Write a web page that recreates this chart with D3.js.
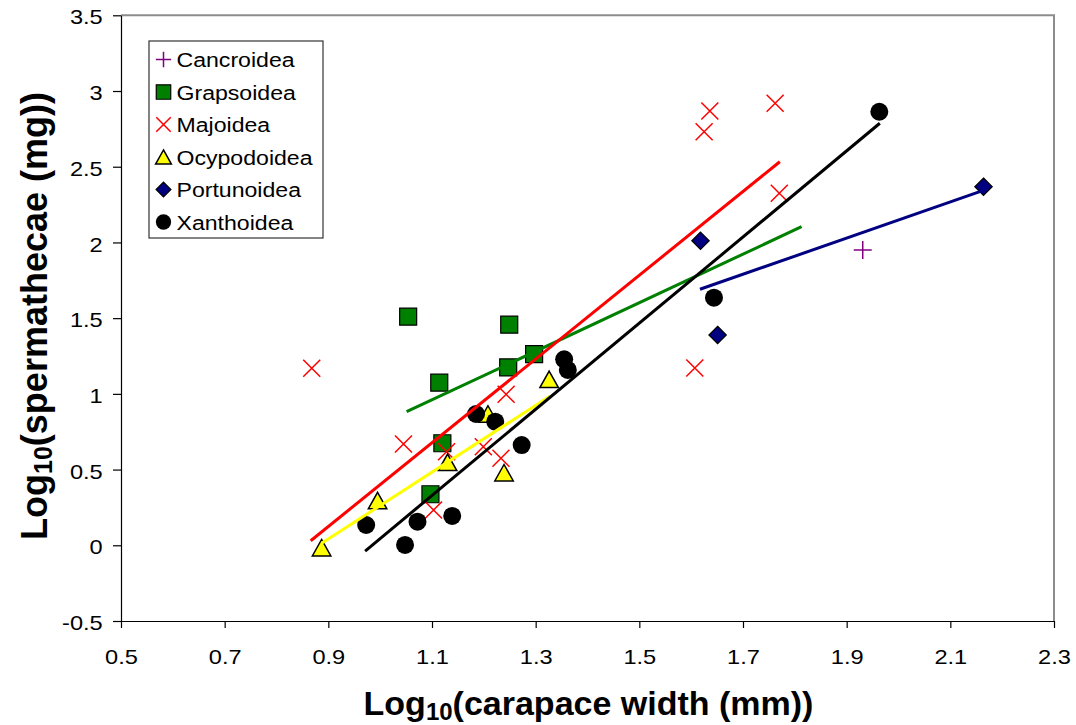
<!DOCTYPE html>
<html>
<head>
<meta charset="utf-8">
<script src="https://cdn.jsdelivr.net/npm/d3@7"></script>
<style>
  html, body { margin: 0; padding: 0; background: #fff; }
  svg { display: block; }
  text { font-family: "Liberation Sans", Arial, sans-serif; fill: #000; }
</style>
</head>
<body>
<svg id="chart" width="1076" height="725"></svg>
<script>
// ---------------- data ----------------
const seriesNames = ["Cancroidea", "Grapsoidea", "Majoidea", "Ocypodoidea", "Portunoidea", "Xanthoidea"];

// [log10 carapace width, log10 spermathecae]
const cancroidea = [[1.931, 1.950]];
const grapsoidea = [[1.054, 1.510], [1.249, 1.457], [1.114, 1.074], [1.297, 1.263], [1.247, 1.175], [1.120, 0.674], [1.097, 0.337]];
const majoidea = [[0.868, 1.169], [1.045, 0.669], [1.103, 0.233], [1.128, 0.618], [1.199, 0.651], [1.233, 0.575], [1.243, 0.997],
                  [1.607, 1.171], [1.625, 2.731], [1.636, 2.868], [1.762, 2.919], [1.770, 2.325]];
const ocypodoidea = [[0.887, -0.016], [0.995, 0.295], [1.130, 0.548], [1.208, 0.867], [1.239, 0.479], [1.326, 1.096]];
const portunoidea = [[1.618, 2.011], [1.651, 1.389], [2.164, 2.368]];
const xanthoidea = [[0.973, 0.134], [1.048, 0.002], [1.072, 0.156], [1.139, 0.194], [1.185, 0.867], [1.222, 0.816],
                    [1.273, 0.662], [1.355, 1.228], [1.362, 1.158], [1.644, 1.635], [1.963, 2.863]];

// linear trend lines (end points)
const grapsoideaFit = [[1.051, 0.882], [1.813, 2.104]];
const majoideaFit = [[0.866, 0.030], [1.771, 2.533]];
const ocypodoideaFit = [[0.887, 0.013], [1.328, 0.986]];
const portunoideaFit = [[1.617, 1.691], [2.161, 2.340]];
const xanthoideaFit = [[0.971, -0.038], [1.964, 2.787]];

const xTicks = [0.5, 0.7, 0.9, 1.1, 1.3, 1.5, 1.7, 1.9, 2.1, 2.3];
const xTickLabels = ["0.5", "0.7", "0.9", "1.1", "1.3", "1.5", "1.7", "1.9", "2.1", "2.3"];
const yTicks = [-0.5, 0, 0.5, 1, 1.5, 2, 2.5, 3, 3.5];
const yTickLabels = ["-0.5", "0", "0.5", "1", "1.5", "2", "2.5", "3", "3.5"];

// ---------------- layout ----------------
const svg = d3.select("#chart");
const L = 121, R = 1054, T = 15.3, B = 621;
const x = d3.scaleLinear().domain([0.5, 2.3]).range([L, R]);
const y = d3.scaleLinear().domain([-0.5, 3.5]).range([B, T]);

// plot border (top/right grey)
svg.append("path")
  .attr("d", `M${L},${T}H${R}V${B}`)
  .attr("fill", "none").attr("stroke", "#8c8c8c").attr("stroke-width", 2);

// axes
const xAxis = svg.append("g").attr("transform", `translate(0,${B})`)
  .call(d3.axisBottom(x).tickValues(xTicks).tickSize(7).tickSizeOuter(0)
        .tickFormat((d, i) => xTickLabels[i]));
const yAxis = svg.append("g").attr("transform", `translate(${L},0)`)
  .call(d3.axisLeft(y).tickValues(yTicks).tickSize(8).tickSizeOuter(0)
        .tickFormat((d, i) => yTickLabels[i]));
[xAxis, yAxis].forEach(g => {
  g.selectAll("path.domain").attr("stroke", "#000").attr("stroke-width", 1.2);
  g.selectAll(".tick line").attr("stroke", "#000").attr("stroke-width", 1.2);
  g.selectAll(".tick text").attr("font-size", 20).attr("fill", "#000")
    .style("font-family", '"Liberation Sans", Arial, sans-serif');
});
xAxis.selectAll(".tick text").attr("y", 43).attr("dy", 0).attr("transform", "scale(1.18,1)");
yAxis.selectAll(".tick text").attr("x", -18.3 / 1.18).attr("dy", "0.43em").attr("transform", "scale(1.18,1)");

// ---------------- marker shapes ----------------
function squarePath(s) { const h = s / 2; return `M${-h},${-h}H${h}V${h}H${-h}Z`; }
function trianglePath(w, hgt) { return `M0,${-hgt / 2}L${w / 2},${hgt / 2}L${-w / 2},${hgt / 2}Z`; }
function diamondPath(r) { return `M0,${-r}L${r},0L0,${r}L${-r},0Z`; }
function xPath(r) { return `M${-r},${-r}L${r},${r}M${-r},${r}L${r},${-r}`; }
function plusPath(r) { return `M${-r},0H${r}M0,${-r}V${r}`; }

const styles = {
  Cancroidea:  { draw: (g, k) => g.append("path").attr("d", plusPath(9 * k)).attr("fill", "none").attr("stroke", "#800080").attr("stroke-width", 1.5) },
  Grapsoidea:  { draw: (g, k) => g.append("path").attr("d", squarePath(17 * k)).attr("fill", "#008000").attr("stroke", "#000").attr("stroke-width", 1.2) },
  Majoidea:    { draw: (g, k) => g.append("path").attr("d", xPath(8.5 * k)).attr("fill", "none").attr("stroke", "#ff0000").attr("stroke-width", 1.5) },
  Ocypodoidea: { draw: (g, k) => g.append("path").attr("d", trianglePath(18.5 * k, 16.5 * k)).attr("fill", "#ffff00").attr("stroke", "#000").attr("stroke-width", 1.5).attr("stroke-linejoin", "miter") },
  Portunoidea: { draw: (g, k) => g.append("path").attr("d", diamondPath(8.7 * k)).attr("fill", "#000080").attr("stroke", "#000").attr("stroke-width", 1.2) },
  Xanthoidea:  { draw: (g, k) => g.append("circle").attr("r", 9 * k).attr("fill", "#000") }
};

const seriesData = { Cancroidea: cancroidea, Grapsoidea: grapsoidea, Majoidea: majoidea,
                     Ocypodoidea: ocypodoidea, Portunoidea: portunoidea, Xanthoidea: xanthoidea };

// points
const plot = svg.append("g");
seriesNames.forEach(name => {
  const g = plot.append("g").attr("class", "series");
  g.selectAll("g.pt").data(seriesData[name]).join("g")
    .attr("class", "pt")
    .attr("transform", d => `translate(${x(d[0])},${y(d[1])})`)
    .each(function () { styles[name].draw(d3.select(this), 1); });
});

// trend lines
const fits = [
  { data: grapsoideaFit, color: "#008000" },
  { data: majoideaFit, color: "#ff0000" },
  { data: ocypodoideaFit, color: "#ffff00" },
  { data: portunoideaFit, color: "#000080" },
  { data: xanthoideaFit, color: "#000000" }
];
const line = d3.line().x(d => x(d[0])).y(d => y(d[1]));
fits.forEach(f => {
  svg.append("path").attr("d", line(f.data)).attr("fill", "none")
    .attr("stroke", f.color).attr("stroke-width", 3);
});

// ---------------- legend ----------------
const lg = svg.append("g");
lg.append("rect").attr("x", 149).attr("y", 41).attr("width", 174).attr("height", 197)
  .attr("fill", "#fff").attr("stroke", "#333").attr("stroke-width", 1.2);
seriesNames.forEach((name, i) => {
  const cy = 59.5 + i * 32.5;
  const mg = lg.append("g").attr("transform", `translate(163.5,${cy})`);
  styles[name].draw(mg, 0.85);
  lg.append("text").attr("x", 176.5 / 1.1).attr("y", cy + 7.6)
    .attr("transform", "scale(1.1,1)")
    .attr("font-size", 21).text(name);
});

// ---------------- titles ----------------
const xt = svg.append("text").attr("x", 588.5).attr("y", 715)
  .attr("text-anchor", "middle").attr("font-size", 34).attr("font-weight", "bold");
xt.append("tspan").text("Log");
xt.append("tspan").attr("font-size", 24).attr("dy", 5).text("10");
xt.append("tspan").attr("dy", -5).text("(carapace width (mm))");

const yt = svg.append("text").attr("transform", "translate(47,316) rotate(-90)")
  .attr("text-anchor", "middle").attr("font-size", 36).attr("font-weight", "bold");
yt.append("tspan").text("Log");
yt.append("tspan").attr("font-size", 25).attr("dy", 5).text("10");
yt.append("tspan").attr("dy", -5).text("(spermathecae (mg))");
</script>
</body>
</html>
